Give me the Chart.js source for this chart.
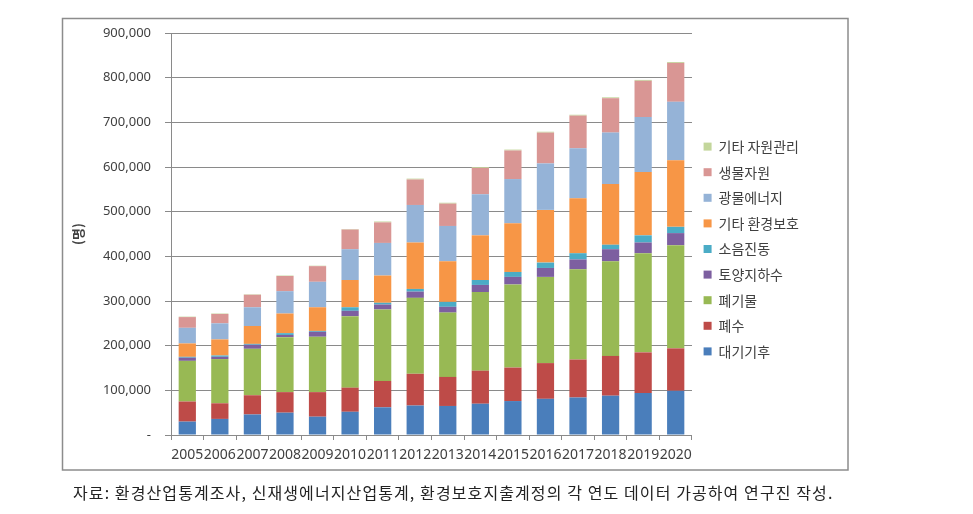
<!DOCTYPE html>
<html>
<head>
<meta charset="utf-8">
<script src="https://cdn.jsdelivr.net/npm/chart.js@4"></script>
<style>
  body { margin: 0; background: #fff; }
  #wrap { position: relative; width: 973px; height: 514px; }
  #note {
    position: absolute; left: 73px; top: 480px;
    font: 16px "Noto Sans CJK KR", sans-serif; color: #222; white-space: nowrap;
    letter-spacing: 1.1px;
  }
</style>
</head>
<body>
<div id="wrap">
  <canvas id="chart" width="973" height="514"></canvas>
  <div id="note">자료: 환경산업통계조사, 신재생에너지산업통계, 환경보호지출계정의 각 연도 데이터 가공하여 연구진 작성.</div>
</div>
<script>
const years = ['2005', '2006', '2007', '2008', '2009', '2010', '2011', '2012',
               '2013', '2014', '2015', '2016', '2017', '2018', '2019', '2020'];

// 단위: 명
const air      = [30000, 36000, 46000, 50000, 41000, 52000, 62000, 66000, 65000, 70000, 76000, 81000, 84000, 88000, 94000, 99000];
const water    = [45000, 35000, 43000, 46000, 55000, 54000, 59000, 71000, 65000, 74000, 75000, 80000, 85000, 89000, 91000, 95000];
const waste    = [91000, 99000, 104000, 123000, 124000, 160000, 160000, 170000, 144000, 176000, 186000, 193000, 202000, 212000, 222000, 231000];
const soil     = [7000, 5000, 9000, 5000, 11000, 12000, 11000, 14000, 13000, 16000, 17000, 20000, 22000, 27000, 24000, 27000];
const noise    = [2000, 3000, 2000, 4000, 2000, 8000, 4000, 6000, 11000, 11000, 11000, 12000, 14000, 10000, 16000, 14000];
const envEtc   = [30000, 36000, 40000, 44000, 53000, 61000, 61000, 104000, 91000, 100000, 109000, 118000, 123000, 136000, 142000, 149000];
const mineral  = [35000, 36000, 42000, 50000, 57000, 69000, 73000, 84000, 79000, 92000, 99000, 104000, 112000, 115000, 123000, 131000];
const bio      = [24000, 21000, 28000, 34000, 35000, 44000, 46000, 57000, 50000, 59000, 64000, 69000, 73000, 77000, 81000, 87000];
const resEtc   = [1000, 1000, 1000, 1000, 1000, 1000, 2000, 2000, 2000, 2000, 2000, 2000, 2000, 2000, 2000, 2000];

const seriesNames = ['대기기후', '폐수', '폐기물', '토양지하수', '소음진동', '기타 환경보호', '광물에너지', '생물자원', '기타 자원관리'];
const seriesData = [air, water, waste, soil, noise, envEtc, mineral, bio, resEtc];
const seriesColors = ['#4a7ebb', '#be4b48', '#98b954', '#7d5fa0', '#4bacc6', '#f79646', '#95b3d7', '#d99694', '#c3d69b'];

const yTicks = [0, 100000, 200000, 300000, 400000, 500000, 600000, 700000, 800000, 900000];

const gridGray = '#8a8a8a';
const textGray = '#404040';

const framePlugin = {
    id: 'frame',
    beforeDraw(chart) {
        const c = chart.ctx;
        c.save();
        c.fillStyle = '#fff';
        c.fillRect(0, 0, chart.width, chart.height);
        c.strokeStyle = '#8c8c8c';
        c.lineWidth = 1.5;
        c.strokeRect(62.5, 18.5, 785.5, 451.5);
        c.restore();
    }
};

new Chart(document.getElementById('chart'), {
    type: 'bar',
    data: {
        labels: years,
        datasets: seriesNames.map((name, i) => ({
            label: name,
            data: seriesData[i],
            backgroundColor: seriesColors[i],
            borderWidth: 0,
            categoryPercentage: 1,
            barPercentage: 0.53
        }))
    },
    options: {
        responsive: false,
        animation: false,
        layout: { padding: { top: 33, bottom: 49, left: 70, right: 164 } },
        plugins: {
            tooltip: { enabled: false },
            legend: {
                position: 'right',
                reverse: true,
                labels: {
                    boxWidth: 8,
                    boxHeight: 8,
                    padding: 11.6,
                    color: textGray,
                    font: { family: '"Noto Sans CJK KR", sans-serif', size: 14 }
                }
            }
        },
        scales: {
            x: {
                stacked: true,
                offset: true,
                grid: {
                    offset: true,
                    drawOnChartArea: false,
                    drawTicks: true,
                    tickLength: 5,
                    color: gridGray
                },
                border: { color: gridGray },
                ticks: {
                    autoSkip: false,
                    maxRotation: 0,
                    padding: 7,
                    color: textGray,
                    font: { family: '"Noto Sans", sans-serif', size: 14 }
                },
                afterFit(scale) { scale.height = 30; }
            },
            y: {
                stacked: true,
                min: 0,
                max: 900000,
                afterBuildTicks(scale) {
                    scale.ticks = yTicks.map(v => ({ value: v }));
                },
                grid: {
                    color: gridGray,
                    tickLength: 6
                },
                border: { color: gridGray },
                ticks: {
                    padding: 14,
                    color: textGray,
                    font: { family: '"Noto Sans", sans-serif', size: 13 },
                    callback: v => v === 0 ? '-' : v.toLocaleString('en-US')
                },
                title: {
                    display: true,
                    text: '(명)',
                    color: textGray,
                    padding: { top: 0, bottom: 0 },
                    font: { family: '"Noto Sans CJK KR", sans-serif', size: 13, weight: 'bold' }
                },
                afterFit(scale) { scale.width = 101; }
            }
        }
    },
    plugins: [framePlugin]
});
</script>
</body>
</html>
